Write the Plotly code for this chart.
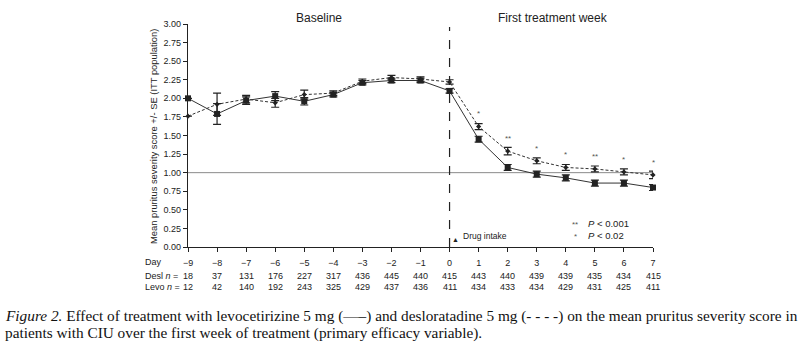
import plotly.graph_objects as go

days = [-9, -8, -7, -6, -5, -4, -3, -2, -1, 0, 1, 2, 3, 4, 5, 6, 7]
day_labels = ["\u22129", "\u22128", "\u22127", "\u22126", "\u22125", "\u22124", "\u22123", "\u22122", "\u22121",
              "0", "1", "2", "3", "4", "5", "6", "7"]
levo = [2.00, 1.79, 1.97, 2.03, 1.96, 2.05, 2.21, 2.24, 2.24, 2.10, 1.45, 1.07, 0.98, 0.93, 0.86, 0.86, 0.80]
levo_se = [0.0, 0.14, 0.05, 0.06, 0.05, 0.03, 0.03, 0.03, 0.03, 0.03, 0.04, 0.04, 0.04, 0.04, 0.04, 0.04, 0.04]
desl = [1.76, 1.92, 1.99, 1.94, 2.05, 2.07, 2.23, 2.28, 2.26, 2.22, 1.62, 1.29, 1.16, 1.07, 1.05, 1.01, 0.97]
desl_se = [0.0, 0.15, 0.05, 0.06, 0.06, 0.03, 0.03, 0.03, 0.03, 0.03, 0.04, 0.05, 0.04, 0.04, 0.04, 0.04, 0.05]
desl_n = [18, 37, 131, 176, 227, 317, 436, 445, 440, 415, 443, 440, 439, 439, 435, 434, 415]
levo_n = [12, 42, 140, 192, 243, 325, 429, 437, 436, 411, 434, 433, 434, 429, 431, 425, 411]
sig_days = [1, 2, 3, 4, 5, 6, 7]
sig_marks = ["*", "**", "*", "*", "**", "*", "*"]
y_ticks = [0, 0.25, 0.5, 0.75, 1.0, 1.25, 1.5, 1.75, 2.0, 2.25, 2.5, 2.75, 3.0]

W, H = 801, 346
L, R, T, B = 188, 148, 24, 99
PH = H - T - B
PW = W - L - R


def yp(pix):
    return (H - B - pix) / PH


def yd(pix):
    return 3.0 * (H - B - pix) / PH


def xp(pix):
    return (pix - L) / PW


ink = "#222222"
sans = "Liberation Sans, Arial, sans-serif"

fig = go.Figure()
fig.add_trace(go.Scatter(
    x=days, y=desl, mode="lines+markers",
    line=dict(color="#333333", width=1, dash="3px,2px"),
    marker=dict(symbol="diamond", size=4, color=ink),
    error_y=dict(type="data", array=desl_se, color=ink, thickness=1.2, width=4),
    cliponaxis=False, showlegend=False))
fig.add_trace(go.Scatter(
    x=days, y=levo, mode="lines+markers",
    line=dict(color="#333333", width=1),
    marker=dict(symbol="square", size=6, color=ink),
    error_y=dict(type="data", array=levo_se, color=ink, thickness=1.2, width=4),
    cliponaxis=False, showlegend=False))

fig.add_shape(type="line", x0=-9, x1=7, y0=1, y1=1, xref="x", yref="y",
              line=dict(color="#8a8a8a", width=1), layer="below")
fig.add_shape(type="line", x0=0, x1=0, y0=0, y1=yd(27), xref="x", yref="y",
              line=dict(color=ink, width=1.2, dash="dash"))

ann = []
desl_by_day = dict(zip(days, desl))
for d, m in zip(sig_days, sig_marks):
    ann.append(dict(x=d, y=desl_by_day[d] + 0.17, xref="x", yref="y", text=m, showarrow=False,
                    yanchor="middle", font=dict(family=sans, size=8, color="#555555")))


def A(xpix, ypix, text, size, anchor="center", family=sans, color=ink, **kw):
    d = dict(x=xp(xpix), y=yp(ypix), xref="paper", yref="paper", text=text, showarrow=False,
             xanchor=anchor, yanchor="middle", font=dict(family=family, size=size, color=color))
    d.update(kw)
    ann.append(d)


A(319, 18, "Baseline", 12)
A(553, 18, "First treatment week", 12)
A(153, 137, "Mean pruritus severity score +/- SE (ITT population)", 9.4, textangle=-90)

# legend for significance
A(575, 224, "**", 8, color="#555555")
A(586, 223, "<i>P</i> < 0.001", 9.5, anchor="left")
A(575, 236, "*", 8, color="#555555")
A(586, 235, "<i>P</i> < 0.02", 9.5, anchor="left")

# drug intake
A(455, 239, "\u25B2", 7)
A(461, 236, "Drug intake", 8.5, anchor="left")

# table rows
A(143, 262, "Day", 9, anchor="left")
A(143, 276, "Desl <i>n</i> =", 9, anchor="left")
A(143, 287, "Levo <i>n</i> =", 9, anchor="left")
for d, n1, n2 in zip(days, desl_n, levo_n):
    ann.append(dict(x=d, y=yp(276), xref="x", yref="paper", text=str(n1), showarrow=False,
                    yanchor="middle", font=dict(family=sans, size=9, color=ink)))
    ann.append(dict(x=d, y=yp(287), xref="x", yref="paper", text=str(n2), showarrow=False,
                    yanchor="middle", font=dict(family=sans, size=9, color=ink)))

# caption
serif = "Liberation Serif, Times New Roman, serif"
A(3, 316, "<i>Figure 2.</i> Effect of treatment with levocetirizine 5 mg (\u2014\u2013) and desloratadine 5 mg (- - - -) on the mean pruritus severity score in",
  15.3, anchor="left", family=serif, color="#111111")
A(3, 333, "patients with CIU over the first week of treatment (primary efficacy variable).",
  15.3, anchor="left", family=serif, color="#111111")

fig.update_layout(
    width=W, height=H, margin=dict(l=L, r=R, t=T, b=B, pad=0),
    paper_bgcolor="white", plot_bgcolor="white",
    annotations=ann,
    xaxis=dict(range=[-9, 7], tickvals=days, ticktext=day_labels, showgrid=False, zeroline=False,
               showline=True, linecolor=ink, linewidth=1.2, ticks="outside", ticklen=4, tickcolor=ink,
               ticklabelstandoff=3,
               tickfont=dict(family=sans, size=9, color=ink), fixedrange=True),
    yaxis=dict(range=[0, 3], tickvals=y_ticks, tickformat=".2f", showgrid=False, zeroline=False,
               showline=True, linecolor=ink, linewidth=1.2, ticks="outside", ticklen=4, tickcolor=ink,
               tickfont=dict(family=sans, size=9, color=ink), fixedrange=True),
)

fig.write_html("out.html")
